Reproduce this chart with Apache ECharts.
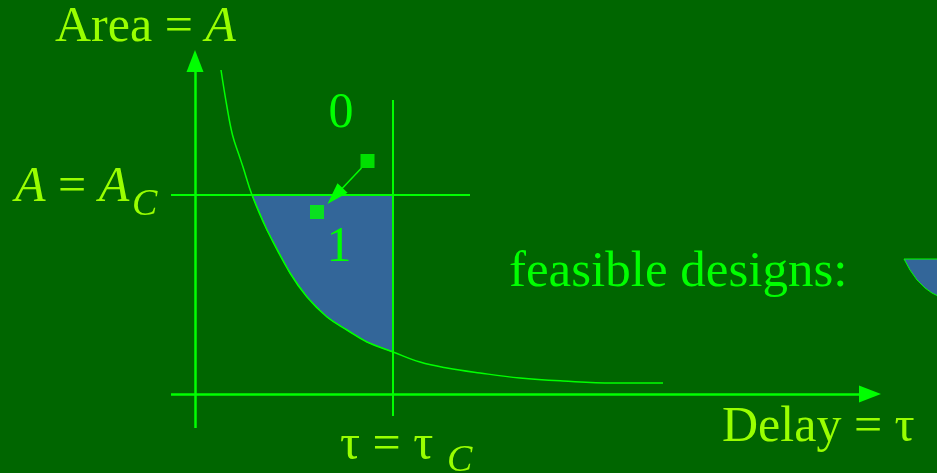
<!DOCTYPE html>
<html>
<head>
<meta charset="utf-8">
<script src="https://cdn.jsdelivr.net/npm/echarts@6/dist/echarts.min.js"></script>
<style>
  html, body { margin: 0; padding: 0; background: #006600; }
  #main { width: 937px; height: 473px; }
</style>
</head>
<body>
<div id="main"></div>
<script>
// trade-off curve (delay tau vs area A)
const curveTau  = [0.26, 0.32, 0.375, 0.44, 0.48, 0.57, 0.72, 0.95, 1.12, 1.32, 1.52, 1.72, 1.98, 2.25, 2.52, 2.85, 3.25, 3.68, 4.18, 4.68];
const curveArea = [3.24, 2.87, 2.59, 2.39, 2.27, 1.99, 1.64, 1.21, 0.97, 0.77, 0.64, 0.52, 0.42, 0.32, 0.26, 0.21, 0.16, 0.13, 0.11, 0.11];

// constraints
const tauC = 1.98;
const areaC = 1.99;

// design points: 0 (infeasible) -> 1 (feasible)
const designTau  = [1.725, 1.22];
const designArea = [2.33, 1.82];

// line extents
const tauAxisExtent  = [-0.24, 6.75];
const areaAxisExtent = [-0.34, 3.33];
const areaCExtent    = [-0.24, 2.75];
const tauCExtent     = [-0.22, 2.94];

// the small legend swatch cut by the right edge
const swatchTau  = [7.09, 7.15, 7.22, 7.30, 7.37, 7.47, 7.47];
const swatchArea = [1.35, 1.24, 1.14, 1.06, 1.01, 0.96, 1.35];

const myChart = echarts.init(document.querySelector('#main'));

const green = '#00ff00';
const labelColor = '#99ff00';
const serif = '"Liberation Serif", "DejaVu Serif", serif';

// feasible region: curve between the two constraints, closed at (tauC, areaC)
const region = [];
curveTau.forEach(function (t, i) {
  if (t <= tauC && curveArea[i] <= areaC) region.push([t, curveArea[i]]);
});
region.push([tauC, areaC]);

const swatch = swatchTau.map(function (t, i) { return [t, swatchArea[i]]; });

function polygonSeries(points, z) {
  return {
    type: 'custom',
    z: z,
    silent: true,
    data: [0],
    renderItem: function (params, api) {
      return {
        type: 'polygon',
        shape: { points: points.map(function (p) { return api.coord(p); }) },
        style: { fill: '#336699', stroke: green, lineWidth: 1 }
      };
    }
  };
}

function seg(a, b) {
  return [{ coord: a }, { coord: b }];
}

function label(x, y, text, size, color, extra) {
  const style = Object.assign({
    text: text,
    font: size + 'px ' + serif,
    fill: color,
    verticalAlign: 'middle'
  }, extra || {});
  return { type: 'text', z: 100, x: x, y: y, silent: true, style: style };
}

const italicRich = { i: { fontStyle: 'italic', fontSize: 50, fontFamily: serif, fill: labelColor } };

const option = {
  backgroundColor: '#006600',
  animation: false,
  grid: { left: 0, right: 0, top: 0, bottom: 0 },
  xAxis: { type: 'value', min: -1.95, max: 7.42, show: false },
  yAxis: { type: 'value', min: -0.79, max: 3.94, show: false },
  series: [
    polygonSeries(region, 1),
    polygonSeries(swatch, 1),
    {
      type: 'line',
      z: 3,
      silent: true,
      data: curveTau.map(function (t, i) { return [t, curveArea[i]]; }),
      smooth: 0.4,
      showSymbol: false,
      lineStyle: { color: green, width: 1.5 },
      markLine: {
        silent: true,
        symbol: ['none', 'none'],
        label: { show: false },
        lineStyle: { color: green, width: 2, type: 'solid' },
        data: [
          seg([areaCExtent[0], areaC], [areaCExtent[1], areaC]),
          seg([tauC, tauCExtent[0]], [tauC, tauCExtent[1]])
        ]
      }
    },
    {
      type: 'line',
      z: 4,
      silent: true,
      data: [],
      markLine: {
        silent: true,
        symbol: ['none', 'triangle'],
        symbolSize: [17, 22],
        label: { show: false },
        lineStyle: { color: green, width: 2.5, type: 'solid' },
        data: [
          seg([tauAxisExtent[0], 0], [tauAxisExtent[1], 0]),
          seg([0, areaAxisExtent[0]], [0, areaAxisExtent[1]])
        ]
      }
    },
    {
      type: 'line',
      z: 5,
      silent: true,
      data: [],
      markLine: {
        silent: true,
        symbol: ['none', 'triangle'],
        symbolSize: [14, 22],
        label: { show: false },
        lineStyle: { color: green, width: 1.5, type: 'solid' },
        data: [
          seg([designTau[0] - 0.06, designArea[0] - 0.07], [designTau[1] + 0.18, designArea[1] + 0.16])
        ]
      }
    },
    {
      type: 'scatter',
      z: 6,
      silent: true,
      symbol: 'rect',
      symbolSize: 14,
      itemStyle: { color: green },
      data: designTau.map(function (t, i) { return [t, designArea[i]]; })
    }
  ],
  graphic: [
    label(55, 28, 'Area = {i|A}', 50, labelColor, { rich: italicRich }),
    label(15, 188, '{i|A} = {i|A}', 50, labelColor, { rich: italicRich }),
    label(132, 205, 'C', 38, labelColor, { font: 'italic 38px ' + serif }),
    label(341, 114, '0', 50, green, { align: 'center' }),
    label(339, 248, '1', 50, green, { align: 'center' }),
    label(509, 273, 'feasible designs:', 51, green),
    label(722, 428, 'Delay = τ', 50, labelColor),
    label(340, 446, 'τ = τ', 50, labelColor),
    label(447, 461, 'C', 38, labelColor, { font: 'italic 38px ' + serif })
  ]
};

option && myChart.setOption(option);
</script>
</body>
</html>
